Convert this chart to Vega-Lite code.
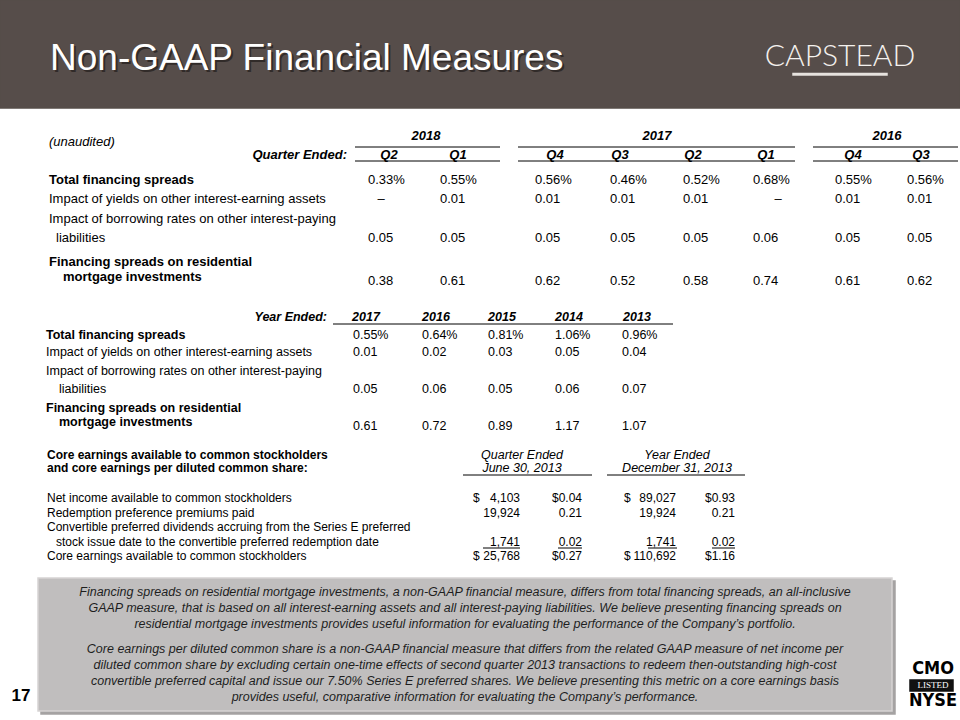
{
  "$schema": "https://vega.github.io/schema/vega-lite/v6.json",
  "width": 960,
  "height": 720,
  "padding": 0,
  "autosize": {"type": "none"},
  "background": "#ffffff",
  "config": {"view": {"stroke": null}, "text": {"font": "Liberation Sans", "color": "#000000", "baseline": "middle"}},
  "resolve": {"scale": {"x": "independent", "y": "independent"}},
  "datasets": {
    "zones": [
      {"zone": "header band", "left": 1, "right": 10, "top": 1, "bottom": 4},
      {"zone": "logo underline", "left": 4, "right": 5, "top": 2, "bottom": 3},
      {"zone": "note box shadow", "left": 3, "right": 7, "top": 6, "bottom": 10},
      {"zone": "note box", "left": 2, "right": 6, "top": 5, "bottom": 9},
      {"zone": "listing badge", "left": 8, "right": 9, "top": 7, "bottom": 8}
    ],
    "slide": [
      {"item": "title", "text": "Non-GAAP Financial Measures", "xs": 1, "ys": 1},
      {"item": "logo", "text": "CAPSTEAD", "xs": 2, "ys": 2},
      {"item": "page number", "text": "17", "xs": 3, "ys": 3},
      {"item": "listing", "text": "CMO", "xs": 4, "ys": 4},
      {"item": "listing badge", "text": "LISTED", "xs": 4, "ys": 5},
      {"item": "listing", "text": "NYSE", "xs": 4, "ys": 6}
    ],
    "quarterly": [
      {"role": "note", "text": "(unaudited)", "col": 0, "line": 2},
      {"role": "period label", "text": "Quarter Ended:", "col": 0, "line": 4},
      {"role": "year", "text": "2018", "group": 1, "line": 1},
      {"role": "year", "text": "2017", "group": 2, "line": 1},
      {"role": "year", "text": "2016", "group": 3, "line": 1},
      {"role": "quarter", "text": "Q2", "col": 1, "line": 4},
      {"role": "quarter", "text": "Q1", "col": 2, "line": 4},
      {"role": "quarter", "text": "Q4", "col": 3, "line": 4},
      {"role": "quarter", "text": "Q3", "col": 4, "line": 4},
      {"role": "quarter", "text": "Q2", "col": 5, "line": 4},
      {"role": "quarter", "text": "Q1", "col": 6, "line": 4},
      {"role": "quarter", "text": "Q4", "col": 7, "line": 4},
      {"role": "quarter", "text": "Q3", "col": 8, "line": 4},
      {"role": "total", "text": "Total financing spreads", "col": 0, "line": 6},
      {"role": "metric", "text": "Impact of yields on other interest-earning assets", "col": 0, "line": 7},
      {"role": "metric", "text": "Impact of borrowing rates on other interest-paying", "col": 0, "line": 8},
      {"role": "metric cont", "text": "liabilities", "col": 0, "line": 9},
      {"role": "total", "text": "Financing spreads on residential", "col": 0, "line": 10},
      {"role": "total cont", "text": "mortgage investments", "col": 0, "line": 11},
      {"role": "value", "period": "2018 Q2", "text": "0.33%", "col": 1, "line": 6},
      {"role": "value", "period": "2018 Q1", "text": "0.55%", "col": 2, "line": 6},
      {"role": "value", "period": "2017 Q4", "text": "0.56%", "col": 3, "line": 6},
      {"role": "value", "period": "2017 Q3", "text": "0.46%", "col": 4, "line": 6},
      {"role": "value", "period": "2017 Q2", "text": "0.52%", "col": 5, "line": 6},
      {"role": "value", "period": "2017 Q1", "text": "0.68%", "col": 6, "line": 6},
      {"role": "value", "period": "2016 Q4", "text": "0.55%", "col": 7, "line": 6},
      {"role": "value", "period": "2016 Q3", "text": "0.56%", "col": 8, "line": 6},
      {"role": "value", "period": "2018 Q2", "text": "–", "col": 1, "line": 7},
      {"role": "value", "period": "2018 Q1", "text": "0.01", "col": 2, "line": 7},
      {"role": "value", "period": "2017 Q4", "text": "0.01", "col": 3, "line": 7},
      {"role": "value", "period": "2017 Q3", "text": "0.01", "col": 4, "line": 7},
      {"role": "value", "period": "2017 Q2", "text": "0.01", "col": 5, "line": 7},
      {"role": "value", "period": "2017 Q1", "text": "–", "col": 6, "line": 7},
      {"role": "value", "period": "2016 Q4", "text": "0.01", "col": 7, "line": 7},
      {"role": "value", "period": "2016 Q3", "text": "0.01", "col": 8, "line": 7},
      {"role": "value", "period": "2018 Q2", "text": "0.05", "col": 1, "line": 9},
      {"role": "value", "period": "2018 Q1", "text": "0.05", "col": 2, "line": 9},
      {"role": "value", "period": "2017 Q4", "text": "0.05", "col": 3, "line": 9},
      {"role": "value", "period": "2017 Q3", "text": "0.05", "col": 4, "line": 9},
      {"role": "value", "period": "2017 Q2", "text": "0.05", "col": 5, "line": 9},
      {"role": "value", "period": "2017 Q1", "text": "0.06", "col": 6, "line": 9},
      {"role": "value", "period": "2016 Q4", "text": "0.05", "col": 7, "line": 9},
      {"role": "value", "period": "2016 Q3", "text": "0.05", "col": 8, "line": 9},
      {"role": "value", "period": "2018 Q2", "text": "0.38", "col": 1, "line": 12},
      {"role": "value", "period": "2018 Q1", "text": "0.61", "col": 2, "line": 12},
      {"role": "value", "period": "2017 Q4", "text": "0.62", "col": 3, "line": 12},
      {"role": "value", "period": "2017 Q3", "text": "0.52", "col": 4, "line": 12},
      {"role": "value", "period": "2017 Q2", "text": "0.58", "col": 5, "line": 12},
      {"role": "value", "period": "2017 Q1", "text": "0.74", "col": 6, "line": 12},
      {"role": "value", "period": "2016 Q4", "text": "0.61", "col": 7, "line": 12},
      {"role": "value", "period": "2016 Q3", "text": "0.62", "col": 8, "line": 12}
    ],
    "quarterly_rules": [
      {"group": "2018", "from": 1, "to": 2, "line": 3},
      {"group": "2017", "from": 3, "to": 4, "line": 3},
      {"group": "2016", "from": 5, "to": 6, "line": 3},
      {"group": "2018", "from": 1, "to": 2, "line": 5},
      {"group": "2017", "from": 3, "to": 4, "line": 5},
      {"group": "2016", "from": 5, "to": 6, "line": 5}
    ],
    "annual": [
      {"role": "period label", "text": "Year Ended:", "col": 0, "line": 1},
      {"role": "year", "text": "2017", "col": 1, "line": 1},
      {"role": "year", "text": "2016", "col": 2, "line": 1},
      {"role": "year", "text": "2015", "col": 3, "line": 1},
      {"role": "year", "text": "2014", "col": 4, "line": 1},
      {"role": "year", "text": "2013", "col": 5, "line": 1},
      {"role": "total", "text": "Total financing spreads", "col": 0, "line": 3},
      {"role": "metric", "text": "Impact of yields on other interest-earning assets", "col": 0, "line": 4},
      {"role": "metric", "text": "Impact of borrowing rates on other interest-paying", "col": 0, "line": 5},
      {"role": "metric cont", "text": "liabilities", "col": 0, "line": 6},
      {"role": "total", "text": "Financing spreads on residential", "col": 0, "line": 7},
      {"role": "total cont", "text": "mortgage investments", "col": 0, "line": 8},
      {"role": "value", "period": "2017", "text": "0.55%", "col": 1, "line": 3},
      {"role": "value", "period": "2016", "text": "0.64%", "col": 2, "line": 3},
      {"role": "value", "period": "2015", "text": "0.81%", "col": 3, "line": 3},
      {"role": "value", "period": "2014", "text": "1.06%", "col": 4, "line": 3},
      {"role": "value", "period": "2013", "text": "0.96%", "col": 5, "line": 3},
      {"role": "value", "period": "2017", "text": "0.01", "col": 1, "line": 4},
      {"role": "value", "period": "2016", "text": "0.02", "col": 2, "line": 4},
      {"role": "value", "period": "2015", "text": "0.03", "col": 3, "line": 4},
      {"role": "value", "period": "2014", "text": "0.05", "col": 4, "line": 4},
      {"role": "value", "period": "2013", "text": "0.04", "col": 5, "line": 4},
      {"role": "value", "period": "2017", "text": "0.05", "col": 1, "line": 6},
      {"role": "value", "period": "2016", "text": "0.06", "col": 2, "line": 6},
      {"role": "value", "period": "2015", "text": "0.05", "col": 3, "line": 6},
      {"role": "value", "period": "2014", "text": "0.06", "col": 4, "line": 6},
      {"role": "value", "period": "2013", "text": "0.07", "col": 5, "line": 6},
      {"role": "value", "period": "2017", "text": "0.61", "col": 1, "line": 9},
      {"role": "value", "period": "2016", "text": "0.72", "col": 2, "line": 9},
      {"role": "value", "period": "2015", "text": "0.89", "col": 3, "line": 9},
      {"role": "value", "period": "2014", "text": "1.17", "col": 4, "line": 9},
      {"role": "value", "period": "2013", "text": "1.07", "col": 5, "line": 9}
    ],
    "annual_rules": [
      {"group": "Year Ended", "from": 1, "to": 2, "line": 2}
    ],
    "core": [
      {"role": "heading", "text": "Core earnings available to common stockholders", "col": 0, "line": 1},
      {"role": "heading", "text": "and core earnings per diluted common share:", "col": 0, "line": 2},
      {"role": "item", "text": "Net income available to common stockholders", "col": 0, "line": 4},
      {"role": "item", "text": "Redemption preference premiums paid", "col": 0, "line": 5},
      {"role": "item", "text": "Convertible preferred dividends accruing from the Series E preferred", "col": 0, "line": 6},
      {"role": "item cont", "text": "stock issue date to the convertible preferred redemption date", "col": 0, "line": 7},
      {"role": "item", "text": "Core earnings available to common stockholders", "col": 0, "line": 9},
      {"role": "column", "text": "Quarter Ended", "group": 1, "line": 1},
      {"role": "column", "text": "June 30, 2013", "group": 1, "line": 2},
      {"role": "column", "text": "Year Ended", "group": 2, "line": 1},
      {"role": "column", "text": "December 31, 2013", "group": 2, "line": 2},
      {"role": "value", "measure": "Q2 2013 amount", "text": "4,103", "currency": "$", "col": 1, "line": 4},
      {"role": "value", "measure": "Q2 2013 per share", "text": "$0.04", "col": 2, "line": 4},
      {"role": "value", "measure": "2013 amount", "text": "89,027", "currency": "$", "col": 3, "line": 4},
      {"role": "value", "measure": "2013 per share", "text": "$0.93", "col": 4, "line": 4},
      {"role": "value", "measure": "Q2 2013 amount", "text": "19,924", "col": 1, "line": 5},
      {"role": "value", "measure": "Q2 2013 per share", "text": "0.21", "col": 2, "line": 5},
      {"role": "value", "measure": "2013 amount", "text": "19,924", "col": 3, "line": 5},
      {"role": "value", "measure": "2013 per share", "text": "0.21", "col": 4, "line": 5},
      {"role": "value", "measure": "Q2 2013 amount", "text": "1,741", "col": 1, "line": 7},
      {"role": "value", "measure": "Q2 2013 per share", "text": "0.02", "col": 2, "line": 7},
      {"role": "value", "measure": "2013 amount", "text": "1,741", "col": 3, "line": 7},
      {"role": "value", "measure": "2013 per share", "text": "0.02", "col": 4, "line": 7},
      {"role": "value", "measure": "Q2 2013 amount", "text": "25,768", "currency": "$", "col": 1, "line": 9},
      {"role": "value", "measure": "Q2 2013 per share", "text": "$0.27", "col": 2, "line": 9},
      {"role": "value", "measure": "2013 amount", "text": "110,692", "currency": "$", "col": 3, "line": 9},
      {"role": "value", "measure": "2013 per share", "text": "$1.16", "col": 4, "line": 9}
    ],
    "core_rules": [
      {"kind": "header rule", "from": 1, "to": 2, "line": 3},
      {"kind": "header rule", "from": 3, "to": 4, "line": 3},
      {"kind": "underline", "from": 1, "to": 2, "line": 8},
      {"kind": "underline", "from": 3, "to": 4, "line": 8},
      {"kind": "underline", "from": 5, "to": 6, "line": 8},
      {"kind": "underline", "from": 7, "to": 8, "line": 8}
    ],
    "notes": [
      {"paragraph": 1, "line": 1, "text": "Financing spreads on residential mortgage investments, a non-GAAP financial measure, differs from total financing spreads, an all-inclusive"},
      {"paragraph": 1, "line": 2, "text": "GAAP measure, that is based on all interest-earning assets and all interest-paying liabilities.  We believe presenting financing spreads on"},
      {"paragraph": 1, "line": 3, "text": "residential mortgage investments provides useful information for evaluating the performance of the Company’s portfolio."},
      {"paragraph": 2, "line": 4, "text": "Core earnings per diluted common share is a non-GAAP financial measure that differs from the related GAAP measure of net income per"},
      {"paragraph": 2, "line": 5, "text": "diluted common share by excluding certain one-time effects of second quarter 2013 transactions to redeem then-outstanding high-cost"},
      {"paragraph": 2, "line": 6, "text": "convertible preferred capital and issue our 7.50% Series E preferred shares.  We believe presenting this metric on a core earnings basis"},
      {"paragraph": 2, "line": 7, "text": "provides useful, comparative information for evaluating the Company’s performance."}
    ]
  },
  "layer": [
    {
      "data": {"name": "zones"},
      "mark": {"type": "rect", "strokeWidth": 1.5},
      "encoding": {
        "x": {"field": "left", "type": "quantitative", "axis": null, "scale": {"domain": [1, 2, 3, 4, 5, 6, 7, 8, 9, 10], "range": [0, 38, 41, 793, 887, 892, 895, 910, 953, 960], "nice": false, "zero": false}},
        "x2": {"field": "right"},
        "y": {"field": "top", "type": "quantitative", "axis": null, "scale": {"domain": [1, 2, 3, 4, 5, 6, 7, 8, 9, 10], "range": [0, 73.5, 75, 108, 578, 581, 680, 691, 711, 714], "nice": false, "zero": false}},
        "y2": {"field": "bottom"},
        "fill": {"field": "zone", "type": "nominal", "legend": null, "scale": {"domain": ["header band", "logo underline", "note box shadow", "note box", "listing badge"], "range": ["#564d4a", "#e6e2de", "#a5a3a3", "#c0bebe", "#111111"]}},
        "stroke": {"field": "zone", "type": "nominal", "legend": null, "scale": {"domain": ["header band", "logo underline", "note box shadow", "note box", "listing badge"], "range": ["#564d4a", "#e6e2de", "#a5a3a3", "#d6d4d4", "#111111"]}}
      }
    },
    {
      "data": {"name": "slide"},
      "transform": [{"filter": "datum.item === 'title'"}],
      "mark": {"type": "text", "align": "left", "fontSize": 37, "color": "#1a1514", "opacity": 0.6, "dx": 2, "dy": 2},
      "encoding": {
        "x": {"field": "xs", "type": "quantitative", "axis": null, "scale": {"domain": [1, 2, 3, 4], "range": [50, 840, 21, 933], "nice": false, "zero": false}},
        "y": {"field": "ys", "type": "quantitative", "axis": null, "scale": {"domain": [1, 2, 3, 4, 5, 6], "range": [59, 57, 696, 669, 685, 701], "nice": false, "zero": false}},
        "text": {"field": "text"}
      }
    },
    {
      "data": {"name": "slide"},
      "transform": [{"filter": "datum.item === 'title'"}],
      "mark": {"type": "text", "align": "left", "fontSize": 37, "color": "#ffffff"},
      "encoding": {
        "x": {"field": "xs", "type": "quantitative", "axis": null, "scale": {"domain": [1, 2, 3, 4], "range": [50, 840, 21, 933], "nice": false, "zero": false}},
        "y": {"field": "ys", "type": "quantitative", "axis": null, "scale": {"domain": [1, 2, 3, 4, 5, 6], "range": [59, 57, 696, 669, 685, 701], "nice": false, "zero": false}},
        "text": {"field": "text"}
      }
    },
    {
      "data": {"name": "slide"},
      "transform": [{"filter": "datum.item === 'logo'"}],
      "mark": {"type": "text", "align": "center", "fontSize": 30, "font": "Lato", "fontWeight": 300, "color": "#f4f1ee"},
      "encoding": {
        "x": {"field": "xs", "type": "quantitative", "axis": null, "scale": {"domain": [1, 2, 3, 4], "range": [50, 840, 21, 933], "nice": false, "zero": false}},
        "y": {"field": "ys", "type": "quantitative", "axis": null, "scale": {"domain": [1, 2, 3, 4, 5, 6], "range": [59, 57, 696, 669, 685, 701], "nice": false, "zero": false}},
        "text": {"field": "text"}
      }
    },
    {
      "data": {"name": "slide"},
      "transform": [{"filter": "datum.item === 'page number'"}],
      "mark": {"type": "text", "align": "center", "fontSize": 17, "fontWeight": "bold"},
      "encoding": {
        "x": {"field": "xs", "type": "quantitative", "axis": null, "scale": {"domain": [1, 2, 3, 4], "range": [50, 840, 21, 933], "nice": false, "zero": false}},
        "y": {"field": "ys", "type": "quantitative", "axis": null, "scale": {"domain": [1, 2, 3, 4, 5, 6], "range": [59, 57, 696, 669, 685, 701], "nice": false, "zero": false}},
        "text": {"field": "text"}
      }
    },
    {
      "data": {"name": "slide"},
      "transform": [{"filter": "datum.item === 'listing'"}],
      "mark": {"type": "text", "align": "center", "fontSize": 18, "fontWeight": "bold", "font": "Liberation Sans Narrow, DejaVu Sans Condensed, sans-serif"},
      "encoding": {
        "x": {"field": "xs", "type": "quantitative", "axis": null, "scale": {"domain": [1, 2, 3, 4], "range": [50, 840, 21, 933], "nice": false, "zero": false}},
        "y": {"field": "ys", "type": "quantitative", "axis": null, "scale": {"domain": [1, 2, 3, 4, 5, 6], "range": [59, 57, 696, 669, 685, 701], "nice": false, "zero": false}},
        "text": {"field": "text"}
      }
    },
    {
      "data": {"name": "slide"},
      "transform": [{"filter": "datum.item === 'listing badge'"}],
      "mark": {"type": "text", "align": "center", "fontSize": 9, "font": "Liberation Serif", "color": "#ffffff"},
      "encoding": {
        "x": {"field": "xs", "type": "quantitative", "axis": null, "scale": {"domain": [1, 2, 3, 4], "range": [50, 840, 21, 933], "nice": false, "zero": false}},
        "y": {"field": "ys", "type": "quantitative", "axis": null, "scale": {"domain": [1, 2, 3, 4, 5, 6], "range": [59, 57, 696, 669, 685, 701], "nice": false, "zero": false}},
        "text": {"field": "text"}
      }
    },
    {
      "data": {"name": "quarterly_rules"},
      "mark": {"type": "rule", "color": "#000000", "strokeWidth": 1},
      "encoding": {
        "x": {"field": "from", "type": "quantitative", "axis": null, "scale": {"domain": [1, 2, 3, 4, 5, 6], "range": [355, 500, 518, 795, 813, 958], "nice": false, "zero": false}},
        "x2": {"field": "to"},
        "y": {"field": "line", "type": "quantitative", "axis": null, "scale": {"domain": [1, 2, 3, 4, 5, 6, 7, 8, 9, 10, 11, 12], "range": [136, 142, 147, 155, 161, 180, 199, 219, 238, 262, 277, 281], "nice": false, "zero": false}}
      }
    },
    {
      "data": {"name": "quarterly"},
      "transform": [{"filter": "datum.role === 'note'"}],
      "mark": {"type": "text", "align": "left", "fontSize": 13, "fontStyle": "italic"},
      "encoding": {
        "x": {"field": "col", "type": "quantitative", "axis": null, "scale": {"domain": [0, 1, 2, 3, 4, 5, 6, 7, 8], "range": [49, 368, 440, 535, 610, 683, 753, 835, 907], "nice": false, "zero": false}},
        "y": {"field": "line", "type": "quantitative", "axis": null, "scale": {"domain": [1, 2, 3, 4, 5, 6, 7, 8, 9, 10, 11, 12], "range": [136, 142, 147, 155, 161, 180, 199, 219, 238, 262, 277, 281], "nice": false, "zero": false}},
        "text": {"field": "text"}
      }
    },
    {
      "data": {"name": "quarterly"},
      "transform": [{"filter": "datum.role === 'period label'"}],
      "mark": {"type": "text", "align": "right", "fontSize": 13, "fontStyle": "italic", "fontWeight": "bold"},
      "encoding": {
        "x": {"field": "col", "type": "quantitative", "axis": null, "scale": {"domain": [0, 1, 2, 3, 4, 5, 6, 7, 8], "range": [347, 389, 458, 555, 620, 693, 766, 853, 921], "nice": false, "zero": false}},
        "y": {"field": "line", "type": "quantitative", "axis": null, "scale": {"domain": [1, 2, 3, 4, 5, 6, 7, 8, 9, 10, 11, 12], "range": [136, 142, 147, 155, 161, 180, 199, 219, 238, 262, 277, 281], "nice": false, "zero": false}},
        "text": {"field": "text"}
      }
    },
    {
      "data": {"name": "quarterly"},
      "transform": [{"filter": "datum.role === 'quarter'"}],
      "mark": {"type": "text", "align": "center", "fontSize": 13, "fontStyle": "italic", "fontWeight": "bold"},
      "encoding": {
        "x": {"field": "col", "type": "quantitative", "axis": null, "scale": {"domain": [0, 1, 2, 3, 4, 5, 6, 7, 8], "range": [347, 389, 458, 555, 620, 693, 766, 853, 921], "nice": false, "zero": false}},
        "y": {"field": "line", "type": "quantitative", "axis": null, "scale": {"domain": [1, 2, 3, 4, 5, 6, 7, 8, 9, 10, 11, 12], "range": [136, 142, 147, 155, 161, 180, 199, 219, 238, 262, 277, 281], "nice": false, "zero": false}},
        "text": {"field": "text"}
      }
    },
    {
      "data": {"name": "quarterly"},
      "transform": [{"filter": "datum.role === 'value' && datum.text === '–'"}],
      "mark": {"type": "text", "align": "center", "fontSize": 13},
      "encoding": {
        "x": {"field": "col", "type": "quantitative", "axis": null, "scale": {"domain": [0, 1, 2, 3, 4, 5, 6, 7, 8], "range": [347, 381, 458, 555, 620, 693, 778, 853, 921], "nice": false, "zero": false}},
        "y": {"field": "line", "type": "quantitative", "axis": null, "scale": {"domain": [1, 2, 3, 4, 5, 6, 7, 8, 9, 10, 11, 12], "range": [136, 142, 147, 155, 161, 180, 199, 219, 238, 262, 277, 281], "nice": false, "zero": false}},
        "text": {"field": "text"}
      }
    },
    {
      "data": {"name": "quarterly"},
      "transform": [{"filter": "datum.role === 'year'"}],
      "mark": {"type": "text", "align": "center", "fontSize": 13, "fontStyle": "italic", "fontWeight": "bold"},
      "encoding": {
        "x": {"field": "group", "type": "quantitative", "axis": null, "scale": {"domain": [1, 2, 3], "range": [426, 657, 887], "nice": false, "zero": false}},
        "y": {"field": "line", "type": "quantitative", "axis": null, "scale": {"domain": [1, 2, 3, 4, 5, 6, 7, 8, 9, 10, 11, 12], "range": [136, 142, 147, 155, 161, 180, 199, 219, 238, 262, 277, 281], "nice": false, "zero": false}},
        "text": {"field": "text"}
      }
    },
    {
      "data": {"name": "quarterly"},
      "transform": [{"filter": "datum.role === 'metric' || (datum.role === 'value' && datum.text !== '–')"}],
      "mark": {"type": "text", "align": "left", "fontSize": 13},
      "encoding": {
        "x": {"field": "col", "type": "quantitative", "axis": null, "scale": {"domain": [0, 1, 2, 3, 4, 5, 6, 7, 8], "range": [49, 368, 440, 535, 610, 683, 753, 835, 907], "nice": false, "zero": false}},
        "y": {"field": "line", "type": "quantitative", "axis": null, "scale": {"domain": [1, 2, 3, 4, 5, 6, 7, 8, 9, 10, 11, 12], "range": [136, 142, 147, 155, 161, 180, 199, 219, 238, 262, 277, 281], "nice": false, "zero": false}},
        "text": {"field": "text"}
      }
    },
    {
      "data": {"name": "quarterly"},
      "transform": [{"filter": "datum.role === 'metric cont'"}],
      "mark": {"type": "text", "align": "left", "fontSize": 13, "dx": 7},
      "encoding": {
        "x": {"field": "col", "type": "quantitative", "axis": null, "scale": {"domain": [0, 1, 2, 3, 4, 5, 6, 7, 8], "range": [49, 368, 440, 535, 610, 683, 753, 835, 907], "nice": false, "zero": false}},
        "y": {"field": "line", "type": "quantitative", "axis": null, "scale": {"domain": [1, 2, 3, 4, 5, 6, 7, 8, 9, 10, 11, 12], "range": [136, 142, 147, 155, 161, 180, 199, 219, 238, 262, 277, 281], "nice": false, "zero": false}},
        "text": {"field": "text"}
      }
    },
    {
      "data": {"name": "quarterly"},
      "transform": [{"filter": "datum.role === 'total'"}],
      "mark": {"type": "text", "align": "left", "fontSize": 13, "fontWeight": "bold"},
      "encoding": {
        "x": {"field": "col", "type": "quantitative", "axis": null, "scale": {"domain": [0, 1, 2, 3, 4, 5, 6, 7, 8], "range": [49, 368, 440, 535, 610, 683, 753, 835, 907], "nice": false, "zero": false}},
        "y": {"field": "line", "type": "quantitative", "axis": null, "scale": {"domain": [1, 2, 3, 4, 5, 6, 7, 8, 9, 10, 11, 12], "range": [136, 142, 147, 155, 161, 180, 199, 219, 238, 262, 277, 281], "nice": false, "zero": false}},
        "text": {"field": "text"}
      }
    },
    {
      "data": {"name": "quarterly"},
      "transform": [{"filter": "datum.role === 'total cont'"}],
      "mark": {"type": "text", "align": "left", "fontSize": 13, "fontWeight": "bold", "dx": 14},
      "encoding": {
        "x": {"field": "col", "type": "quantitative", "axis": null, "scale": {"domain": [0, 1, 2, 3, 4, 5, 6, 7, 8], "range": [49, 368, 440, 535, 610, 683, 753, 835, 907], "nice": false, "zero": false}},
        "y": {"field": "line", "type": "quantitative", "axis": null, "scale": {"domain": [1, 2, 3, 4, 5, 6, 7, 8, 9, 10, 11, 12], "range": [136, 142, 147, 155, 161, 180, 199, 219, 238, 262, 277, 281], "nice": false, "zero": false}},
        "text": {"field": "text"}
      }
    },
    {
      "data": {"name": "annual_rules"},
      "mark": {"type": "rule", "color": "#000000", "strokeWidth": 1},
      "encoding": {
        "x": {"field": "from", "type": "quantitative", "axis": null, "scale": {"domain": [1, 2], "range": [333, 673], "nice": false, "zero": false}},
        "x2": {"field": "to"},
        "y": {"field": "line", "type": "quantitative", "axis": null, "scale": {"domain": [1, 2, 3, 4, 5, 6, 7, 8, 9], "range": [317, 324, 335, 352, 371, 389, 408, 422, 426], "nice": false, "zero": false}}
      }
    },
    {
      "data": {"name": "annual"},
      "transform": [{"filter": "datum.role === 'period label'"}],
      "mark": {"type": "text", "align": "right", "fontSize": 12.5, "fontStyle": "italic", "fontWeight": "bold"},
      "encoding": {
        "x": {"field": "col", "type": "quantitative", "axis": null, "scale": {"domain": [0, 1, 2, 3, 4, 5], "range": [327, 366, 436, 502, 569, 637], "nice": false, "zero": false}},
        "y": {"field": "line", "type": "quantitative", "axis": null, "scale": {"domain": [1, 2, 3, 4, 5, 6, 7, 8, 9], "range": [317, 324, 335, 352, 371, 389, 408, 422, 426], "nice": false, "zero": false}},
        "text": {"field": "text"}
      }
    },
    {
      "data": {"name": "annual"},
      "transform": [{"filter": "datum.role === 'year'"}],
      "mark": {"type": "text", "align": "center", "fontSize": 12.5, "fontStyle": "italic", "fontWeight": "bold"},
      "encoding": {
        "x": {"field": "col", "type": "quantitative", "axis": null, "scale": {"domain": [0, 1, 2, 3, 4, 5], "range": [327, 366, 436, 502, 569, 637], "nice": false, "zero": false}},
        "y": {"field": "line", "type": "quantitative", "axis": null, "scale": {"domain": [1, 2, 3, 4, 5, 6, 7, 8, 9], "range": [317, 324, 335, 352, 371, 389, 408, 422, 426], "nice": false, "zero": false}},
        "text": {"field": "text"}
      }
    },
    {
      "data": {"name": "annual"},
      "transform": [{"filter": "datum.role === 'metric' || datum.role === 'value'"}],
      "mark": {"type": "text", "align": "left", "fontSize": 12.5},
      "encoding": {
        "x": {"field": "col", "type": "quantitative", "axis": null, "scale": {"domain": [0, 1, 2, 3, 4, 5], "range": [46, 353, 422, 488, 555, 622], "nice": false, "zero": false}},
        "y": {"field": "line", "type": "quantitative", "axis": null, "scale": {"domain": [1, 2, 3, 4, 5, 6, 7, 8, 9], "range": [317, 324, 335, 352, 371, 389, 408, 422, 426], "nice": false, "zero": false}},
        "text": {"field": "text"}
      }
    },
    {
      "data": {"name": "annual"},
      "transform": [{"filter": "datum.role === 'metric cont'"}],
      "mark": {"type": "text", "align": "left", "fontSize": 12.5, "dx": 13},
      "encoding": {
        "x": {"field": "col", "type": "quantitative", "axis": null, "scale": {"domain": [0, 1, 2, 3, 4, 5], "range": [46, 353, 422, 488, 555, 622], "nice": false, "zero": false}},
        "y": {"field": "line", "type": "quantitative", "axis": null, "scale": {"domain": [1, 2, 3, 4, 5, 6, 7, 8, 9], "range": [317, 324, 335, 352, 371, 389, 408, 422, 426], "nice": false, "zero": false}},
        "text": {"field": "text"}
      }
    },
    {
      "data": {"name": "annual"},
      "transform": [{"filter": "datum.role === 'total'"}],
      "mark": {"type": "text", "align": "left", "fontSize": 12.5, "fontWeight": "bold"},
      "encoding": {
        "x": {"field": "col", "type": "quantitative", "axis": null, "scale": {"domain": [0, 1, 2, 3, 4, 5], "range": [46, 353, 422, 488, 555, 622], "nice": false, "zero": false}},
        "y": {"field": "line", "type": "quantitative", "axis": null, "scale": {"domain": [1, 2, 3, 4, 5, 6, 7, 8, 9], "range": [317, 324, 335, 352, 371, 389, 408, 422, 426], "nice": false, "zero": false}},
        "text": {"field": "text"}
      }
    },
    {
      "data": {"name": "annual"},
      "transform": [{"filter": "datum.role === 'total cont'"}],
      "mark": {"type": "text", "align": "left", "fontSize": 12.5, "fontWeight": "bold", "dx": 13},
      "encoding": {
        "x": {"field": "col", "type": "quantitative", "axis": null, "scale": {"domain": [0, 1, 2, 3, 4, 5], "range": [46, 353, 422, 488, 555, 622], "nice": false, "zero": false}},
        "y": {"field": "line", "type": "quantitative", "axis": null, "scale": {"domain": [1, 2, 3, 4, 5, 6, 7, 8, 9], "range": [317, 324, 335, 352, 371, 389, 408, 422, 426], "nice": false, "zero": false}},
        "text": {"field": "text"}
      }
    },
    {
      "data": {"name": "core_rules"},
      "transform": [{"filter": "datum.kind === 'header rule'"}],
      "mark": {"type": "rule", "color": "#000000", "strokeWidth": 1},
      "encoding": {
        "x": {"field": "from", "type": "quantitative", "axis": null, "scale": {"domain": [1, 2, 3, 4], "range": [463, 592, 607, 745], "nice": false, "zero": false}},
        "x2": {"field": "to"},
        "y": {"field": "line", "type": "quantitative", "axis": null, "scale": {"domain": [1, 2, 3, 4, 5, 6, 7, 8, 9], "range": [455, 468, 475, 498, 513, 527, 542, 548, 556], "nice": false, "zero": false}}
      }
    },
    {
      "data": {"name": "core_rules"},
      "transform": [{"filter": "datum.kind === 'underline'"}],
      "mark": {"type": "rule", "color": "#000000", "strokeWidth": 1},
      "encoding": {
        "x": {"field": "from", "type": "quantitative", "axis": null, "scale": {"domain": [1, 2, 3, 4, 5, 6, 7, 8], "range": [483, 520, 558, 582, 648, 677, 712, 735], "nice": false, "zero": false}},
        "x2": {"field": "to"},
        "y": {"field": "line", "type": "quantitative", "axis": null, "scale": {"domain": [1, 2, 3, 4, 5, 6, 7, 8, 9], "range": [455, 468, 475, 498, 513, 527, 542, 548, 556], "nice": false, "zero": false}}
      }
    },
    {
      "data": {"name": "core"},
      "transform": [{"filter": "datum.role === 'heading'"}],
      "mark": {"type": "text", "align": "left", "fontSize": 12, "fontWeight": "bold"},
      "encoding": {
        "x": {"field": "col", "type": "quantitative", "axis": null, "scale": {"domain": [0, 1, 2, 3, 4], "range": [47, 520, 582, 676, 735], "nice": false, "zero": false}},
        "y": {"field": "line", "type": "quantitative", "axis": null, "scale": {"domain": [1, 2, 3, 4, 5, 6, 7, 8, 9], "range": [455, 468, 475, 498, 513, 527, 542, 548, 556], "nice": false, "zero": false}},
        "text": {"field": "text"}
      }
    },
    {
      "data": {"name": "core"},
      "transform": [{"filter": "datum.role === 'item'"}],
      "mark": {"type": "text", "align": "left", "fontSize": 12},
      "encoding": {
        "x": {"field": "col", "type": "quantitative", "axis": null, "scale": {"domain": [0, 1, 2, 3, 4], "range": [47, 520, 582, 676, 735], "nice": false, "zero": false}},
        "y": {"field": "line", "type": "quantitative", "axis": null, "scale": {"domain": [1, 2, 3, 4, 5, 6, 7, 8, 9], "range": [455, 468, 475, 498, 513, 527, 542, 548, 556], "nice": false, "zero": false}},
        "text": {"field": "text"}
      }
    },
    {
      "data": {"name": "core"},
      "transform": [{"filter": "datum.role === 'item cont'"}],
      "mark": {"type": "text", "align": "left", "fontSize": 12, "dx": 9},
      "encoding": {
        "x": {"field": "col", "type": "quantitative", "axis": null, "scale": {"domain": [0, 1, 2, 3, 4], "range": [47, 520, 582, 676, 735], "nice": false, "zero": false}},
        "y": {"field": "line", "type": "quantitative", "axis": null, "scale": {"domain": [1, 2, 3, 4, 5, 6, 7, 8, 9], "range": [455, 468, 475, 498, 513, 527, 542, 548, 556], "nice": false, "zero": false}},
        "text": {"field": "text"}
      }
    },
    {
      "data": {"name": "core"},
      "transform": [{"filter": "datum.role === 'value'"}],
      "mark": {"type": "text", "align": "right", "fontSize": 12},
      "encoding": {
        "x": {"field": "col", "type": "quantitative", "axis": null, "scale": {"domain": [0, 1, 2, 3, 4], "range": [47, 520, 582, 676, 735], "nice": false, "zero": false}},
        "y": {"field": "line", "type": "quantitative", "axis": null, "scale": {"domain": [1, 2, 3, 4, 5, 6, 7, 8, 9], "range": [455, 468, 475, 498, 513, 527, 542, 548, 556], "nice": false, "zero": false}},
        "text": {"field": "text"}
      }
    },
    {
      "data": {"name": "core"},
      "transform": [{"filter": "datum.currency === '$'"}],
      "mark": {"type": "text", "align": "left", "fontSize": 12},
      "encoding": {
        "x": {"field": "col", "type": "quantitative", "axis": null, "scale": {"domain": [1, 3], "range": [473, 624], "nice": false, "zero": false}},
        "y": {"field": "line", "type": "quantitative", "axis": null, "scale": {"domain": [1, 2, 3, 4, 5, 6, 7, 8, 9], "range": [455, 468, 475, 498, 513, 527, 542, 548, 556], "nice": false, "zero": false}},
        "text": {"field": "currency"}
      }
    },
    {
      "data": {"name": "core"},
      "transform": [{"filter": "datum.role === 'column'"}],
      "mark": {"type": "text", "align": "center", "fontSize": 12.5, "fontStyle": "italic"},
      "encoding": {
        "x": {"field": "group", "type": "quantitative", "axis": null, "scale": {"domain": [1, 2], "range": [522, 677], "nice": false, "zero": false}},
        "y": {"field": "line", "type": "quantitative", "axis": null, "scale": {"domain": [1, 2, 3, 4, 5, 6, 7, 8, 9], "range": [455, 468, 475, 498, 513, 527, 542, 548, 556], "nice": false, "zero": false}},
        "text": {"field": "text"}
      }
    },
    {
      "data": {"name": "notes"},
      "mark": {"type": "text", "align": "center", "fontSize": 12.5, "fontStyle": "italic", "color": "#1e1e1e"},
      "encoding": {
        "x": {"field": "paragraph", "type": "quantitative", "axis": null, "scale": {"domain": [1, 2], "range": [465, 465], "nice": false, "zero": false}},
        "y": {"field": "line", "type": "quantitative", "axis": null, "scale": {"domain": [1, 2, 3, 4, 5, 6, 7], "range": [592, 608, 624, 649, 665, 681, 697], "nice": false, "zero": false}},
        "text": {"field": "text"}
      }
    }
  ]
}
